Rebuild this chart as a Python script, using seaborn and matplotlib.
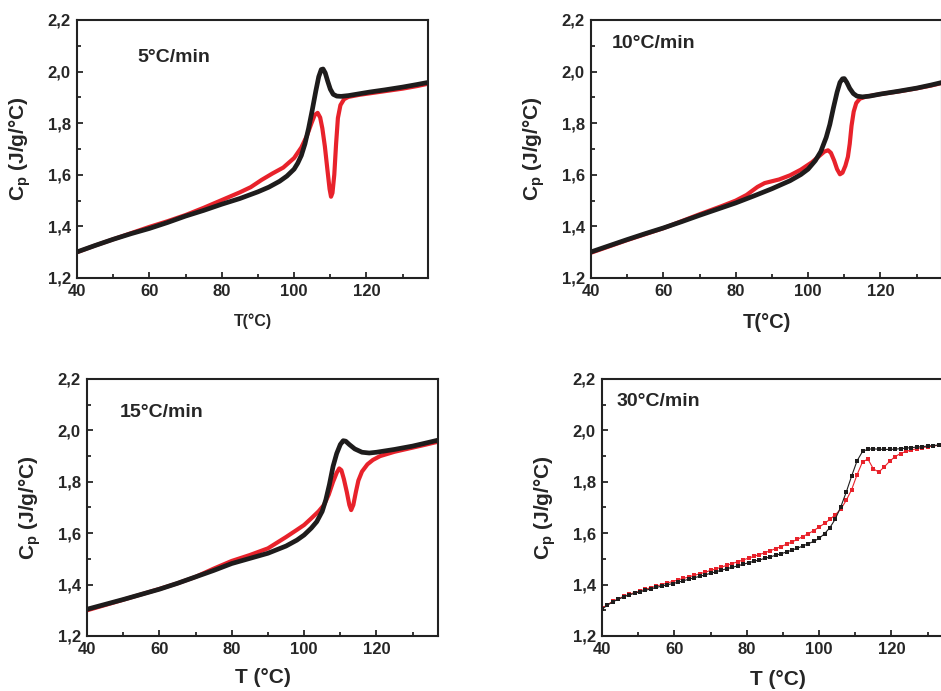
import numpy as np
import pandas as pd
import matplotlib
matplotlib.use("Agg")
import matplotlib.pyplot as plt
import seaborn as sns
from matplotlib.ticker import MultipleLocator, FixedLocator, FixedFormatter

# -------------------------
# Data
# -------------------------
rates = ["5°C/min", "10°C/min", "15°C/min", "30°C/min"]

# 5 °C/min
t5_black = [40, 45, 50, 55, 60, 65, 70, 75, 80, 85, 90, 93, 96, 98, 100, 101, 102, 103, 104, 105, 106,
            106.8, 107.5, 108, 108.6, 109.3, 110, 110.8, 111.8, 113, 115, 118, 121, 125, 130, 134, 137]
cp5_black = [1.301, 1.326, 1.350, 1.372, 1.392, 1.415, 1.440, 1.462, 1.486, 1.508, 1.534, 1.552, 1.575,
             1.595, 1.622, 1.645, 1.675, 1.720, 1.780, 1.850, 1.925, 1.980, 2.008, 2.010, 1.995, 1.962,
             1.932, 1.912, 1.905, 1.904, 1.907, 1.914, 1.921, 1.929, 1.940, 1.950, 1.958]
t5_red = [40, 45, 50, 55, 60, 65, 70, 75, 80, 85, 88, 91, 94, 97, 100, 102, 103.5, 104.8, 105.7, 106.5,
          107.2, 107.8, 108.5, 109.2, 109.8, 110.2, 110.6, 111.1, 111.6, 112.1, 112.8, 113.8, 115, 118,
          122, 126, 130, 134, 137]
cp5_red = [1.300, 1.326, 1.350, 1.374, 1.398, 1.420, 1.444, 1.472, 1.502, 1.532, 1.552, 1.580, 1.605,
           1.628, 1.665, 1.706, 1.750, 1.800, 1.832, 1.840, 1.822, 1.780, 1.710, 1.620, 1.545, 1.515,
           1.530, 1.600, 1.720, 1.820, 1.870, 1.893, 1.902, 1.910, 1.918, 1.926, 1.934, 1.944, 1.953]

# 10 °C/min
t10_black = [40, 45, 50, 55, 60, 65, 70, 75, 80, 85, 90, 95, 98, 100, 102, 103.5, 105, 106, 107, 108,
             108.8, 109.5, 110, 110.7, 111.5, 112.5, 113.5, 115, 117, 120, 125, 130, 134, 137]
cp10_black = [1.301, 1.325, 1.349, 1.372, 1.394, 1.418, 1.443, 1.467, 1.491, 1.518, 1.546, 1.577, 1.601,
              1.622, 1.655, 1.690, 1.745, 1.795, 1.860, 1.920, 1.958, 1.972, 1.973, 1.958, 1.935, 1.915,
              1.905, 1.902, 1.905, 1.913, 1.924, 1.936, 1.948, 1.958]
t10_red = [40, 50, 60, 70, 76, 80, 83, 86, 88, 90, 92, 95, 98, 101, 103, 104.5, 105.5, 106.3, 107.2, 108,
           108.8, 109.5, 110.3, 111, 111.5, 112, 112.6, 113.3, 114.3, 116, 118, 121, 125, 130, 134, 137]
cp10_red = [1.298, 1.347, 1.393, 1.447, 1.478, 1.500, 1.522, 1.553, 1.568, 1.575, 1.582, 1.598, 1.620,
            1.648, 1.672, 1.690, 1.695, 1.685, 1.655, 1.622, 1.602, 1.608, 1.635, 1.670, 1.720, 1.790,
            1.845, 1.878, 1.895, 1.903, 1.908, 1.915, 1.923, 1.935, 1.946, 1.956]

# 15 °C/min
t15_black = [40, 45, 50, 55, 60, 65, 70, 75, 80, 85, 90, 95, 98, 100, 102, 103.5, 105, 106, 107, 108,
             109, 110, 110.8, 111.5, 112.5, 114, 116, 118, 120, 125, 130, 134, 137]
cp15_black = [1.304, 1.323, 1.342, 1.362, 1.382, 1.405, 1.430, 1.455, 1.482, 1.502, 1.522, 1.550, 1.573,
              1.593, 1.620, 1.645, 1.685, 1.730, 1.790, 1.860, 1.910, 1.945, 1.960, 1.958, 1.945, 1.928,
              1.915, 1.912, 1.915, 1.926, 1.939, 1.952, 1.962]
t15_red = [40, 50, 60, 65, 70, 75, 80, 85, 90, 95, 98, 100, 102, 104, 105.5, 106.8, 108, 109, 109.7,
           110.3, 111, 111.8, 112.5, 113, 113.6, 114.3, 115, 116, 117.5, 119, 121, 125, 130, 134, 137]
cp15_red = [1.300, 1.341, 1.383, 1.405, 1.430, 1.462, 1.492, 1.515, 1.541, 1.585, 1.613, 1.632, 1.658,
            1.685, 1.710, 1.750, 1.800, 1.835, 1.852, 1.845, 1.810, 1.760, 1.710, 1.690, 1.710, 1.760,
            1.805, 1.840, 1.868, 1.885, 1.900, 1.917, 1.933, 1.946, 1.956]

# 30 °C/min (sampled points, 1.5 °C apart)
t30 = np.arange(40, 136.1, 1.5)
cp30_black = [1.304, 1.320, 1.333, 1.343, 1.352, 1.360, 1.366, 1.372, 1.378, 1.383, 1.389, 1.394, 1.399,
              1.404, 1.409, 1.415, 1.421, 1.427, 1.432, 1.438, 1.444, 1.450, 1.456, 1.462, 1.467, 1.473,
              1.479, 1.485, 1.491, 1.496, 1.502, 1.508, 1.514, 1.520, 1.527, 1.534, 1.542, 1.550, 1.559,
              1.568, 1.580, 1.598, 1.622, 1.656, 1.703, 1.760, 1.823, 1.882, 1.918, 1.927, 1.928, 1.927,
              1.926, 1.926, 1.927, 1.929, 1.931, 1.933, 1.935, 1.937, 1.939, 1.941, 1.943, 1.945, 1.946]
cp30_red = [1.308, 1.322, 1.335, 1.345, 1.354, 1.362, 1.369, 1.375, 1.382, 1.388, 1.394, 1.400, 1.406,
            1.412, 1.418, 1.424, 1.430, 1.436, 1.442, 1.448, 1.455, 1.461, 1.468, 1.475, 1.482, 1.489,
            1.496, 1.503, 1.510, 1.517, 1.524, 1.532, 1.540, 1.548, 1.557, 1.566, 1.576, 1.587, 1.598,
            1.610, 1.624, 1.638, 1.654, 1.672, 1.694, 1.728, 1.770, 1.828, 1.878, 1.888, 1.850, 1.838,
            1.858, 1.880, 1.898, 1.910, 1.918, 1.924, 1.929, 1.933, 1.936, 1.939, 1.942, 1.944, 1.946]

xticks = [40, 60, 80, 100, 120]
yticks = [1.2, 1.4, 1.6, 1.8, 2.0, 2.2]
ytick_labels = ["1,2", "1,4", "1,6", "1,8", "2,0", "2,2"]

# -------------------------
# Style
# -------------------------
sns.set_style("ticks")
plt.rcParams["font.family"] = ["Liberation Sans", "DejaVu Sans"]
plt.rcParams["font.weight"] = "bold"
plt.rcParams["mathtext.fontset"] = "custom"
plt.rcParams["mathtext.rm"] = "Liberation Sans:bold"
plt.rcParams["mathtext.bf"] = "Liberation Sans:bold"
plt.rcParams["mathtext.it"] = "Liberation Sans:bold"

RED = "#e8222b"
BLACK = "#1e1c1c"

fig = plt.figure(figsize=(9.41, 6.91), dpi=100)

# axes boxes in pixels: left, top, right, bottom
boxes = [(77, 20, 428, 278), (591, 20, 942, 278), (87, 379, 438, 636), (602, 379, 953, 636)]
W, H = 941, 691

curves = [
    (t5_red, cp5_red, t5_black, cp5_black),
    (t10_red, cp10_red, t10_black, cp10_black),
    (t15_red, cp15_red, t15_black, cp15_black),
    (t30, cp30_red, t30, cp30_black),
]
title_pos = [(56.8, 2.053), (45.8, 2.11), (49.1, 2.068), (43.9, 2.114)]
xlabels = ["T(°C)", "T(°C)", "T (°C)", "T (°C)"]
xlabel_size = [11.5, 14.5, 15, 15]
xlabel_y = [-0.167, -0.174, -0.163, -0.171]

for i, (l, t, r, b) in enumerate(boxes):
    ax = fig.add_axes([l / W, 1 - b / H, (r - l) / W, (b - t) / H])
    xr, yr, xb, yb = curves[i]
    if i < 3:
        sns.lineplot(x=xr, y=yr, ax=ax, color=RED, lw=3.0, sort=False, estimator=None)
        sns.lineplot(x=xb, y=yb, ax=ax, color=BLACK, lw=3.4, sort=False, estimator=None)
    else:
        sns.lineplot(x=xr, y=yr, ax=ax, color=RED, lw=0.8, marker="s", markersize=2.8,
                     markeredgewidth=0, sort=False, estimator=None)
        sns.lineplot(x=xb, y=yb, ax=ax, color=BLACK, lw=0.8, marker="s", markersize=2.8,
                     markeredgewidth=0, sort=False, estimator=None)

    ax.set_xlim(40, 137)
    ax.set_ylim(1.2, 2.2)
    ax.xaxis.set_major_locator(FixedLocator(xticks))
    ax.xaxis.set_minor_locator(MultipleLocator(10))
    ax.yaxis.set_major_locator(FixedLocator(yticks))
    ax.yaxis.set_major_formatter(FixedFormatter(ytick_labels))
    ax.yaxis.set_minor_locator(MultipleLocator(0.1))
    ax.tick_params(which="both", direction="in", top=False, right=False, width=1.3,
                   labelsize=12, pad=4.5)
    ax.tick_params(which="major", length=4.5)
    ax.tick_params(which="minor", length=3)
    for lab in ax.get_xticklabels() + ax.get_yticklabels():
        lab.set_fontweight("bold")
    for s in ax.spines.values():
        s.set_linewidth(1.5)
        s.set_color("#222222")

    ax.text(title_pos[i][0], title_pos[i][1], rates[i], fontsize=14, fontweight="bold",
            ha="left", va="center")

    ax.set_xlabel(xlabels[i], fontsize=xlabel_size[i], fontweight="bold")
    ax.xaxis.set_label_coords(0.5, xlabel_y[i])
    ax.xaxis.label.set_va("center")
    ax.set_ylabel(r"C$_\mathregular{p}$ (J/g/°C)", fontsize=15, fontweight="bold")
    ax.yaxis.set_label_coords(-0.162, 0.5)
    ax.yaxis.label.set_va("center")

fig.savefig("out.png", dpi=100)
